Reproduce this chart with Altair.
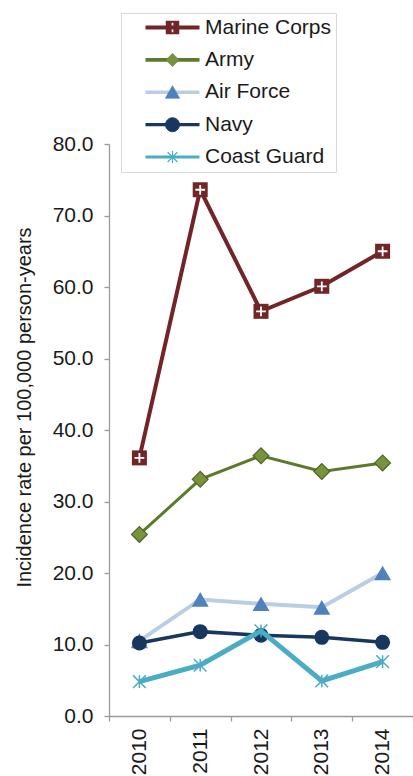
import altair as alt
import pandas as pd

years = ["2010", "2011", "2012", "2013", "2014"]
services = ["Marine Corps", "Army", "Air Force", "Navy", "Coast Guard"]
marine = [36.1, 73.6, 56.6, 60.1, 65.0]
army = [25.4, 33.1, 36.4, 34.2, 35.4]
air_force = [10.5, 16.3, 15.7, 15.2, 20.0]
navy = [10.2, 11.8, 11.3, 11.0, 10.3]
coast_guard = [4.8, 7.1, 11.9, 4.9, 7.6]
y_ticks = [0, 10, 20, 30, 40, 50, 60, 70, 80]

series_values = [marine, army, air_force, navy, coast_guard]
line_colors = ["#722526", "#5b7a2a", "#b9cde5", "#17375e", "#4bacc6"]
line_widths = [4, 3, 4, 3.5, 5]
marker_fill = ["#722526", "#77933c", "#4f81bd", "#17375e", "transparent"]
marker_stroke = ["#722526", "#4f6228", "#4f81bd", "#17375e", "#4bacc6"]
marker_sw = [0, 1.2, 0, 0, 1.5]
marker_shape = ["square", "diamond", "triangle-up", "circle",
                "M-1,-1L1,1M-1,1L1,-1M0,-1V1"]
marker_size = [225, 250, 289, 225, 160]

rows = []
for s, vals in zip(services, series_values):
    for yr, v in zip(years, vals):
        rows.append({"year": yr, "service": s, "rate": v})
df = pd.DataFrame(rows)

FONT = "Liberation Sans"
TXT = "#1a1a1a"
AX = "#9a9a9a"
FS = 21

x_enc = alt.X("year:O", title=None,
              scale=alt.Scale(type="band", paddingInner=0, paddingOuter=0),
              axis=alt.Axis(labelAngle=-90, tickBand="extent", tickSize=5,
                            labelPadding=7, labelFontSize=FS, labelFont=FONT,
                            labelColor=TXT, domainColor=AX,
                            tickColor=AX, domainWidth=1.3, tickWidth=1.3))
y_enc = alt.Y("rate:Q", title="Incidence rate per 100,000 person-years",
              scale=alt.Scale(domain=[0, 80], nice=False, zero=True),
              axis=alt.Axis(values=y_ticks, format=".1f", grid=False, tickSize=5,
                            labelPadding=11, labelFontSize=FS, labelFont=FONT,
                            labelColor=TXT, domainColor=AX,
                            tickColor=AX, domainWidth=1.3, tickWidth=1.3,
                            titleFont=FONT, titleFontSize=20, titleFontWeight="normal",
                            titleColor=TXT, titleX=-75, titleY=263,
                            titleBaseline="bottom"))

layers = []
for i, s in enumerate(services):
    sub = alt.Chart(df).transform_filter(alt.datum.service == s)
    layers.append(sub.mark_line(color=line_colors[i], strokeWidth=line_widths[i])
                  .encode(x=x_enc, y=y_enc))
    layers.append(sub.mark_point(shape=marker_shape[i], filled=True,
                                 fill=marker_fill[i], stroke=marker_stroke[i],
                                 strokeWidth=marker_sw[i], size=marker_size[i], opacity=1)
                  .encode(x=x_enc, y=y_enc))
    if i == 0:
        layers.append(sub.mark_point(shape="M-0.65,0H0.65M0,-0.65V0.65", filled=False,
                                     stroke="white", strokeWidth=1.8, size=225, opacity=1)
                      .encode(x=x_enc, y=y_enc))

# legend layers (unit = 7.5 px)
leg_df = pd.DataFrame({"service": services})
line_paths = ["M-3.6,0H3.6"] * 5
a, L, q = 0.11, 0.62, 0.9
cross_hole = (f"M{-a},{-a}L{-L},{-a}L{-L},{a}L{-a},{a}L{-a},{L}L{a},{L}L{a},{a}"
              f"L{L},{a}L{L},{-a}L{a},{-a}L{a},{-L}L{-a},{-L}Z")
mk_paths = [
    f"M{-q},{-q}H{q}V{q}H{-q}Z" + cross_hole,
    "M0,-0.9L0.9,0L0,0.9L-0.9,0Z",
    "M0,-0.9L0.95,0.8H-0.95Z",
    "M0.93,0A0.93,0.93 0 1 1 -0.93,0A0.93,0.93 0 1 1 0.93,0Z",
    "M-0.65,-0.65L0.65,0.65M-0.65,0.65L0.65,-0.65M0,-0.8V0.8",
]
SYM = 225
PAD = "\u00a0" * 11
common_leg = dict(orient="none", legendX=12, legendY=-131, title=None,
                  labelFont=FONT, labelFontSize=FS, symbolSize=SYM,
                  padding=4, rowPadding=10.4, labelOffset=22, symbolOffset=37,
                  labelLimit=0, labelExpr=f"datum.label + '{PAD}'")

leg_lines = alt.Chart(leg_df).mark_point(filled=False, clip=True, opacity=1).encode(
    x=alt.value(-500), y=alt.value(-500),
    stroke=alt.Stroke("service:N", scale=alt.Scale(domain=services, range=line_colors),
                      legend=alt.Legend(**common_leg, labelColor=TXT,
                                        strokeColor="#d9d9d9", fillColor="white")),
    strokeWidth=alt.StrokeWidth("service:N", scale=alt.Scale(domain=services, range=line_widths),
                                legend=alt.Legend(**common_leg, labelColor=TXT,
                                                  strokeColor="#d9d9d9", fillColor="white")),
    shape=alt.Shape("service:N", scale=alt.Scale(domain=services, range=line_paths),
                    legend=alt.Legend(**common_leg, labelColor=TXT,
                                      strokeColor="#d9d9d9", fillColor="white")),
)
leg_marks = alt.Chart(leg_df).mark_point(filled=True, clip=True, opacity=1).encode(
    x=alt.value(-500), y=alt.value(-500),
    fill=alt.Fill("service:N", scale=alt.Scale(domain=services, range=marker_fill),
                  legend=alt.Legend(**common_leg, labelColor="transparent")),
    stroke=alt.Stroke("service:N", scale=alt.Scale(domain=services, range=marker_stroke),
                      legend=alt.Legend(**common_leg, labelColor="transparent")),
    strokeWidth=alt.StrokeWidth("service:N", scale=alt.Scale(domain=services, range=marker_sw),
                                legend=alt.Legend(**common_leg, labelColor="transparent")),
    shape=alt.Shape("service:N", scale=alt.Scale(domain=services, range=mk_paths),
                    legend=alt.Legend(**common_leg, labelColor="transparent")),
)

chart = alt.layer(*layers, leg_lines, leg_marks).resolve_scale(
    stroke="independent", fill="independent", shape="independent",
    strokeWidth="independent"
).properties(
    width=304, height=572,
    padding={"left": 109, "top": 144, "right": 0, "bottom": 60},
    autosize=alt.AutoSizeParams(type="none"),
).configure_view(stroke=None)

chart.save("out.html", embed_options={"renderer": "svg", "actions": False})
